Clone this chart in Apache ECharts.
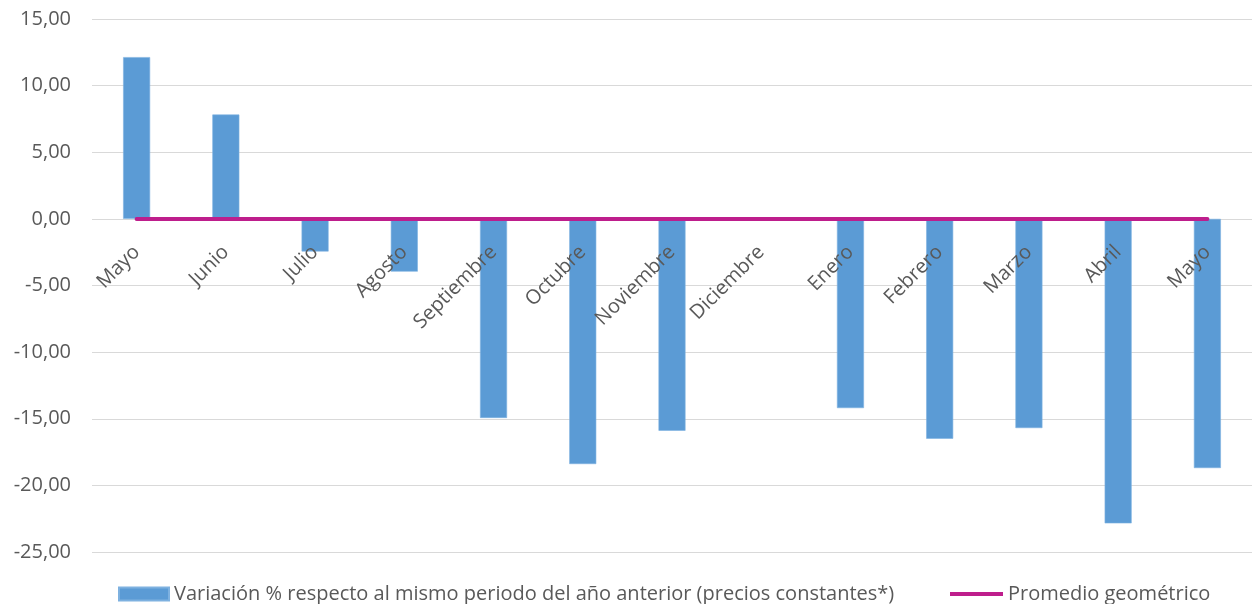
<!DOCTYPE html>
<html>
<head>
<meta charset="utf-8">
<script src="https://cdn.jsdelivr.net/npm/echarts@6/dist/echarts.min.js"></script>
<style>
  html, body { margin: 0; padding: 0; background: #fff; }
  #chart { width: 1253px; height: 604px; }
</style>
</head>
<body>
<div id="chart"></div>
<script>
const months = ['Mayo', 'Junio', 'Julio', 'Agosto', 'Septiembre', 'Octubre', 'Noviembre', 'Diciembre', 'Enero', 'Febrero', 'Marzo', 'Abril', 'Mayo'];
const variacion = [12.14, 7.83, -2.45, -3.96, -14.94, -18.4, -15.9, 0, -14.2, -16.5, -15.7, -22.85, -18.7];
const promedio = [0, 0, 0, 0, 0, 0, 0, 0, 0, 0, 0, 0, 0];
const barName = 'Variación % respecto al mismo periodo del año anterior (precios constantes*)';
const lineName = 'Promedio geométrico';

const FONT = "'Open Sans', 'Liberation Sans', sans-serif";
const TEXT = '#595959';

const chart = echarts.init(document.getElementById('chart'));
chart.setOption({
  backgroundColor: '#fff',
  animation: false,
  textStyle: { fontFamily: FONT },
  grid: { left: 92, right: 1, top: 19, bottom: 52, containLabel: false, outerBoundsMode: 'none' },
  legend: [
    {
      left: 118,
      top: 584,
      padding: 0,
      itemWidth: 50,
      itemHeight: 13,
      itemGap: 0,
      icon: 'rect',
      textStyle: { color: TEXT, fontSize: 20, fontFamily: FONT },
      data: [barName]
    },
    {
      left: 950,
      top: 584,
      padding: 0,
      itemWidth: 53,
      itemHeight: 4,
      itemGap: 0,
      icon: 'rect',
      textStyle: { color: TEXT, fontSize: 20, fontFamily: FONT },
      data: [lineName]
    }
  ],
  xAxis: {
    type: 'category',
    data: months,
    offset: -333,
    z: 4,
    axisLine: { onZero: false, show: false },
    axisTick: { show: false },
    axisLabel: { rotate: 45, margin: 30, color: TEXT, fontSize: 20, fontFamily: FONT, interval: 0 },
    splitLine: { show: false }
  },
  yAxis: {
    type: 'value',
    min: -25,
    max: 15,
    interval: 5,
    axisLine: { show: false },
    axisTick: { show: false },
    axisLabel: {
      margin: 21,
      color: TEXT,
      fontSize: 20,
      fontFamily: FONT,
      formatter: v => v.toFixed(2).replace('.', ',')
    },
    splitLine: { lineStyle: { color: '#d9d9d9', width: 1 } }
  },
  series: [
    {
      name: barName,
      type: 'bar',
      data: variacion,
      barWidth: 27,
      itemStyle: { color: '#5b9bd5', borderColor: '#7eb1e0', borderWidth: 0.6 }
    },
    {
      name: lineName,
      type: 'line',
      data: promedio,
      symbol: 'none',
      z: 5,
      lineStyle: { color: '#be1e8c', width: 4, cap: 'round' },
      itemStyle: { color: '#be1e8c' }
    }
  ]
});
</script>
</body>
</html>
